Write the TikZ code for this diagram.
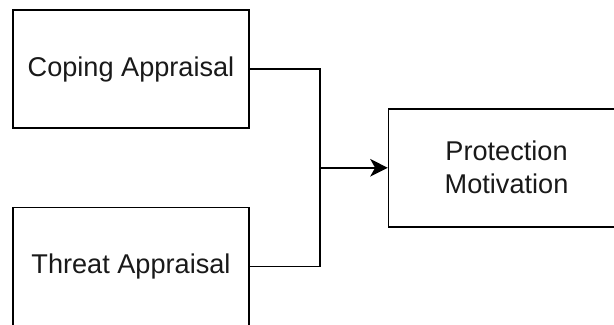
\documentclass[tikz,border=0pt]{standalone}
\usepackage{fontspec}
\setmainfont{Liberation Sans}
\usetikzlibrary{arrows.meta,positioning,calc}
\tikzstyle{appraisalbox} = [rectangle, draw=black, line width=1.1pt, minimum width=5.9cm, minimum height=2.95cm, text centered, font=\fontsize{19.3}{23.5}\selectfont, text=black!90]
\tikzstyle{motivationbox} = [rectangle, draw=black, line width=1.1pt, minimum width=5.9cm, minimum height=2.95cm, align=center, font=\fontsize{19.3}{23.5}\selectfont, text=black!90]
\tikzstyle{link} = [line width=1.1pt, color=black]
\tikzstyle{arrow} = [line width=1.1pt, -{Stealth[length=12.5pt, width=12.5pt, inset=3.5pt]}, color=black]

\begin{document}
\begin{tikzpicture}

\clip (0,0) rectangle (15.35,-8.1);
\fill[white] (0,0) rectangle (15.35,-8.1);

% Appraisal boxes
\node[appraisalbox] (coping) at (3.275,-1.725) {Coping Appraisal};
\node[appraisalbox, below=1.95cm of coping] (threat) {Threat Appraisal};

% Junction and outcome
\coordinate (join) at ($(coping.east)!0.5!(threat.east)$);
\coordinate[right=1.75cm of join] (split);
\node[motivationbox, right=3.45cm of join] (motivation) {Protection\\Motivation};

% Connectors
\draw[link] (coping.east) -| (split) |- (threat.east);
\draw[arrow] (split) -- (motivation.west);

\end{tikzpicture}
\end{document}
